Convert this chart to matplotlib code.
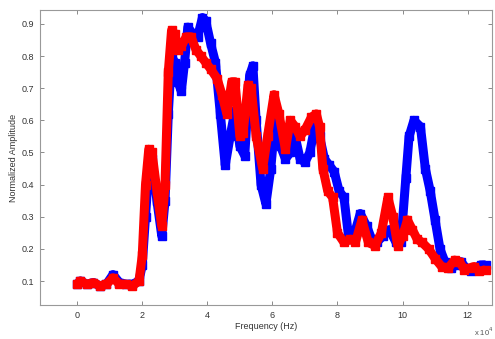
import matplotlib
matplotlib.use("Agg")
import matplotlib.pyplot as plt

# Blue series
blue_x = [0, 0.1, 0.3, 0.5, 0.7, 0.9, 1.1, 1.3, 1.5, 1.7, 1.9, 2.0, 2.1, 2.2, 2.3, 2.45, 2.6, 2.7, 2.8, 2.9,
          3.0, 3.1, 3.2, 3.3, 3.4, 3.55, 3.7, 3.85, 3.95, 4.1, 4.25, 4.4, 4.55, 4.7, 4.85, 5.0, 5.15, 5.3, 5.4,
          5.5, 5.65, 5.8, 5.95, 6.1, 6.25, 6.4, 6.55, 6.7, 6.85, 7.0, 7.15, 7.3, 7.45, 7.6, 7.75, 7.9, 8.05,
          8.2, 8.35, 8.5, 8.7, 8.9, 9.05, 9.2, 9.4, 9.6, 9.8, 9.95, 10.1, 10.2, 10.35, 10.55, 10.7, 10.85,
          11.0, 11.15, 11.3, 11.5, 11.65, 11.8, 11.95, 12.1, 12.25, 12.4, 12.55]
blue_y = [0.09, 0.10, 0.09, 0.095, 0.085, 0.09, 0.12, 0.095, 0.09, 0.09, 0.10, 0.15, 0.30, 0.45, 0.48, 0.35,
          0.24, 0.35, 0.62, 0.80, 0.78, 0.72, 0.69, 0.78, 0.89, 0.87, 0.86, 0.92, 0.91, 0.84, 0.78, 0.62,
          0.46, 0.55, 0.63, 0.52, 0.49, 0.74, 0.77, 0.60, 0.40, 0.34, 0.45, 0.62, 0.52, 0.48, 0.50, 0.55,
          0.48, 0.47, 0.50, 0.58, 0.55, 0.48, 0.46, 0.44, 0.38, 0.36, 0.23, 0.24, 0.31, 0.27, 0.23, 0.22,
          0.24, 0.26, 0.22, 0.22, 0.42, 0.55, 0.60, 0.58, 0.45, 0.38, 0.29, 0.20, 0.16, 0.14, 0.15, 0.16,
          0.14, 0.13, 0.14, 0.15, 0.15]

# Red series
red_x = [0, 0.1, 0.3, 0.5, 0.7, 0.9, 1.1, 1.3, 1.5, 1.7, 1.9, 2.0, 2.1, 2.2, 2.3, 2.45, 2.6, 2.7, 2.8, 2.9,
         3.0, 3.1, 3.2, 3.35, 3.5, 3.65, 3.8, 3.95, 4.1, 4.3, 4.45, 4.6, 4.75, 4.85, 5.0, 5.1, 5.25, 5.35,
         5.5, 5.7, 5.85, 6.05, 6.2, 6.4, 6.55, 6.7, 6.85, 7.0, 7.2, 7.35, 7.45, 7.55, 7.7, 7.85, 8.0, 8.2,
         8.4, 8.55, 8.75, 8.95, 9.15, 9.35, 9.55, 9.7, 9.85, 10.0, 10.15, 10.3, 10.45, 10.6, 10.8, 11.0,
         11.2, 11.4, 11.6, 11.75, 11.9, 12.05, 12.2, 12.35, 12.55]
red_y = [0.09, 0.10, 0.09, 0.095, 0.085, 0.09, 0.11, 0.09, 0.09, 0.085, 0.10, 0.18, 0.40, 0.51, 0.50, 0.38,
         0.27, 0.40, 0.75, 0.88, 0.87, 0.82, 0.83, 0.86, 0.86, 0.82, 0.80, 0.78, 0.76, 0.73, 0.68, 0.62,
         0.72, 0.72, 0.55, 0.56, 0.71, 0.70, 0.55, 0.45, 0.55, 0.68, 0.62, 0.51, 0.60, 0.58, 0.55, 0.57,
         0.61, 0.62, 0.58, 0.45, 0.38, 0.36, 0.25, 0.22, 0.23, 0.22, 0.29, 0.22, 0.21, 0.25, 0.36, 0.30,
         0.21, 0.24, 0.29, 0.26, 0.23, 0.22, 0.20, 0.17, 0.145, 0.14, 0.165, 0.16, 0.135, 0.14, 0.145,
         0.13, 0.135]

x_ticks = [0, 2, 4, 6, 8, 10, 12]
y_ticks = [0.1, 0.2, 0.3, 0.4, 0.5, 0.6, 0.7, 0.8, 0.9]

plt.rcParams['font.family'] = ['Liberation Sans', 'DejaVu Sans']
fig = plt.figure(figsize=(4.95, 3.39), dpi=100)
ax = fig.add_axes([0.081, 0.100, 0.913, 0.871])

for xs, ys, col in [(blue_x, blue_y, (0, 0, 1)), (red_x, red_y, (1, 0, 0))]:
    ax.plot(xs, ys, color=col, lw=6.5, marker='s', ms=6,
            solid_joinstyle='round', solid_capstyle='butt')

ax.set_xlim(-1.14, 12.75)
ax.set_ylim(0.025, 0.944)
ax.set_xticks(x_ticks)
ax.set_xticklabels([str(t) for t in x_ticks])
ax.set_yticks(y_ticks)
ax.set_yticklabels([f"{t:.1f}" for t in y_ticks])

ax.tick_params(direction='in', length=3, width=0.6, colors='#777777', labelcolor='#333333',
               labelsize=6.5, top=True, right=True, pad=4)
for s in ax.spines.values():
    s.set_color('#999999')
    s.set_linewidth(0.8)

ax.set_xlabel('Frequency (Hz)', fontsize=6.5, color='#333333', labelpad=2)
ax.set_ylabel('Normalized Amplitude', fontsize=6.5, color='#333333', labelpad=3)
fig.text(0.997, 0.008, r'x 10$^4$', fontsize=5.5, color='#555555', ha='right')

fig.savefig('out.png', dpi=100)
